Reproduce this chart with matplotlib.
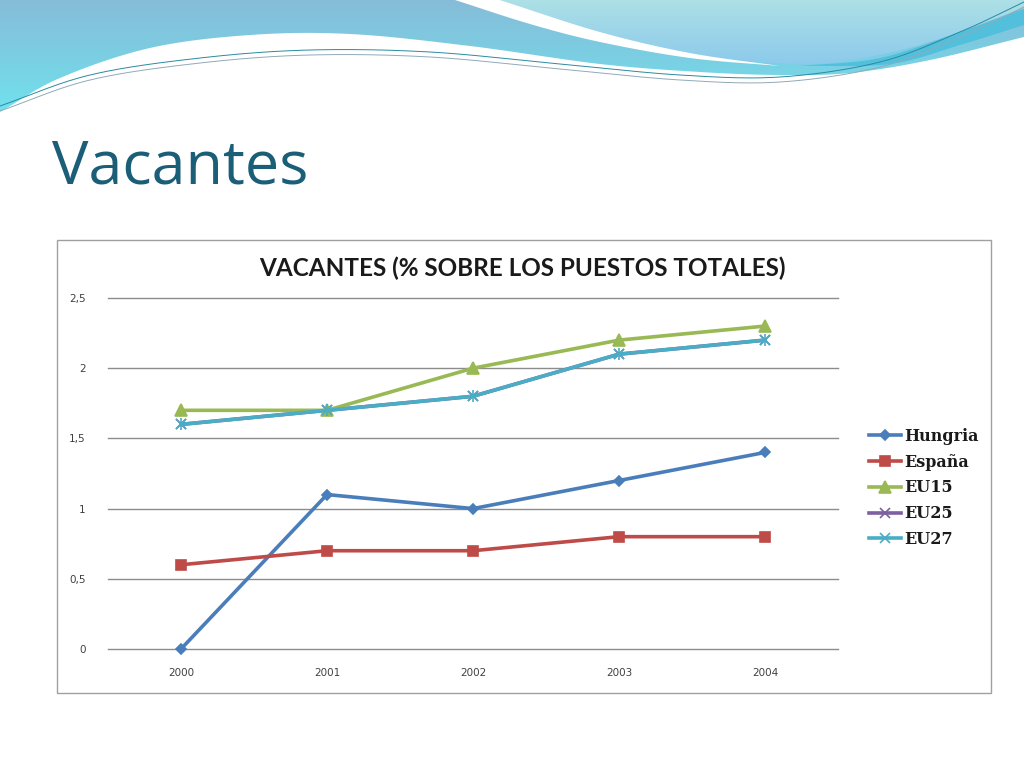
import numpy as np
import matplotlib
matplotlib.use("Agg")
import matplotlib.pyplot as plt
from matplotlib.patches import Rectangle, PathPatch
from matplotlib.path import Path

years = ["2000", "2001", "2002", "2003", "2004"]
hungria = [0.0, 1.1, 1.0, 1.2, 1.4]
espana = [0.6, 0.7, 0.7, 0.8, 0.8]
eu15 = [1.7, 1.7, 2.0, 2.2, 2.3]
eu25 = [1.6, 1.7, 1.8, 2.1, 2.2]
eu27 = [1.6, 1.7, 1.8, 2.1, 2.2]
series_names = ["Hungria", "España", "EU15", "EU25", "EU27"]
y_ticks = [0, 0.5, 1, 1.5, 2, 2.5]
y_tick_labels = ["0", "0,5", "1", "1,5", "2", "2,5"]

W, H = 1024, 768
fig = plt.figure(figsize=(W / 100, H / 100), dpi=100)
fig.patch.set_facecolor("white")

# ---- decorative background (pixel coordinates) ----
bg = fig.add_axes([0, 0, 1, 1])
bg.set_xlim(0, W)
bg.set_ylim(H, 0)
bg.axis("off")
bg.set_zorder(0)


def spline(pts, n=30):
    p = np.array(pts, dtype=float)
    p = np.vstack([2 * p[0] - p[1], p, 2 * p[-1] - p[-2]])
    out = []
    for i in range(1, len(p) - 2):
        p0, p1, p2, p3 = p[i - 1], p[i], p[i + 1], p[i + 2]
        t = np.linspace(0, 1, n, endpoint=False)[:, None]
        seg = 0.5 * ((2 * p1) + (-p0 + p2) * t + (2 * p0 - 5 * p1 + 4 * p2 - p3) * t ** 2
                     + (-p0 + 3 * p1 - 3 * p2 + p3) * t ** 3)
        out.append(seg)
    out.append(p[-2][None, :])
    out = np.vstack(out)
    return out[:, 0], out[:, 1]


def grad_fill(ax, verts, c_top, c_bot, y0, y1, z=0):
    verts = list(verts) + [verts[0]]
    path = Path(verts, closed=True)
    patch = PathPatch(path, facecolor="none", edgecolor="none", transform=ax.transData)
    ax.add_patch(patch)
    grad = np.linspace(0, 1, 256)[:, None, None]
    c1 = np.array(matplotlib.colors.to_rgb(c_top))[None, None, :]
    c2 = np.array(matplotlib.colors.to_rgb(c_bot))[None, None, :]
    img = c1 * (1 - grad) + c2 * grad
    img = np.repeat(img, 2, axis=1)
    im = ax.imshow(img, extent=[0, W, y1, y0], aspect="auto", zorder=z)
    im.set_clip_path(patch)


# left big blue region
lx, ly = spline([(0, 112), (60, 78), (150, 48), (250, 35), (350, 34), (470, 46),
                 (600, 64), (700, 72), (780, 75), (850, 73), (930, 60), (1024, 37)])
verts = [(0, 0)] + list(zip(lx, ly)) + [(1024, 0)]
grad_fill(bg, verts, "#86bcd8", "#70e2ee", 0, 115, z=1)

# top-right light region
rx, ry = spline([(500, 0), (600, 32), (690, 53), (760, 62), (830, 63), (920, 45), (1024, 8)])
verts = [(500, 0)] + list(zip(rx, ry)) + [(1024, 0)]
grad_fill(bg, verts, "#ade0e6", "#8ccaec", 0, 65, z=2)

# white swoosh
ux, uy = spline([(455, 0), (530, 24), (600, 42), (690, 58), (780, 66)])
dx, dy = spline([(500, 0), (600, 32), (690, 53), (780, 66)])
verts = list(zip(ux, uy)) + list(zip(dx[::-1], dy[::-1]))
bg.add_patch(plt.Polygon(verts, closed=True, facecolor="white", edgecolor="none", zorder=3))

# darker cyan band on the right
bx, by = spline([(800, 66), (880, 58), (960, 32), (1024, 9)])
bx2, by2 = spline([(800, 66), (890, 64), (960, 45), (1024, 25)])
verts = list(zip(bx, by)) + list(zip(bx2[::-1], by2[::-1]))
bg.add_patch(plt.Polygon(verts, closed=True, facecolor="#52c0dc", edgecolor="none", zorder=4))

# thin lines
for off, col in [(0, "#2a8aa0"), (5, "#90aab8")]:
    tx, ty = spline([(0, 106 + off), (90, 75 + off), (200, 58 + off), (310, 50 + off),
                     (430, 52 + off), (560, 64 + off), (680, 75 + off), (780, 77 + off),
                     (880, 62 + off), (960, 32 + off), (1024, 2 + off)])
    bg.plot(tx, ty, color=col, lw=0.7, zorder=5)

# chart box
bg.add_patch(Rectangle((57, 240), 991 - 57, 693 - 240, facecolor="white",
                       edgecolor="#a0a0a0", lw=1, zorder=6))

# slide title
fig.text(52 / W, 1 - 168 / H, "Vacantes", fontsize=44, color="#1b5e78",
         family="Open Sans", va="center", ha="left")

fig.text(522 / W, 1 - 268 / H, "VACANTES (% SOBRE LOS PUESTOS TOTALES)",
         fontsize=17.5, fontweight="bold", family="Lato", color="#1a1a1a",
         ha="center", va="center")

ax = fig.add_axes([108 / W, 1 - 649 / H, (838 - 108) / W, (649 - 298) / H])
ax.set_zorder(2)
ax.set_facecolor("none")
x = np.arange(len(years))
styles = [
    (hungria, "#4a7ebb", "D", 5),
    (espana, "#be4b48", "s", 7),
    (eu15, "#98b954", "^", 8),
    (eu25, "#7d60a0", "x", 7),
    (eu27, "#4bacc6", "x", 7),
]
handles = []
for name, (vals, col, mk, ms) in zip(series_names, styles):
    z = 2 if name == "EU25" else 3
    ln, = ax.plot(x, vals, color=col, lw=2.6, marker=mk, ms=ms, mew=1.2,
                  clip_on=False, zorder=z)
    if name == "EU27":
        ax.plot(x, vals, lw=0, marker="|", ms=ms + 2, color=col, mew=1.2,
                clip_on=False, zorder=z)
    handles.append(ln)

ax.set_xlim(-0.5, 4.5)
ax.set_ylim(0, 2.5)
ax.set_xticks(x)
ax.set_xticklabels(years)
ax.set_yticks(y_ticks)
ax.set_yticklabels(y_tick_labels)
ax.tick_params(length=0, labelsize=7.5, colors="#404040")
ax.tick_params(axis="x", pad=14)
ax.tick_params(axis="y", pad=16)
for s in ax.spines.values():
    s.set_visible(False)
ax.grid(axis="y", color="#8c8c8c", lw=1)
for gl in ax.get_ygridlines():
    gl.set_clip_on(False)
ax.set_axisbelow(True)

leg = fig.legend(handles, series_names, loc="center left",
                 bbox_to_anchor=(855 / W, 1 - 488 / H), frameon=False,
                 prop={"family": "DejaVu Serif", "weight": "bold", "size": 11.5},
                 handlelength=2.0, handletextpad=0.2, labelspacing=0.55)
leg.set_zorder(7)
for t in leg.get_texts():
    t.set_color("#1a1a1a")

fig.savefig("out.png", dpi=100)
